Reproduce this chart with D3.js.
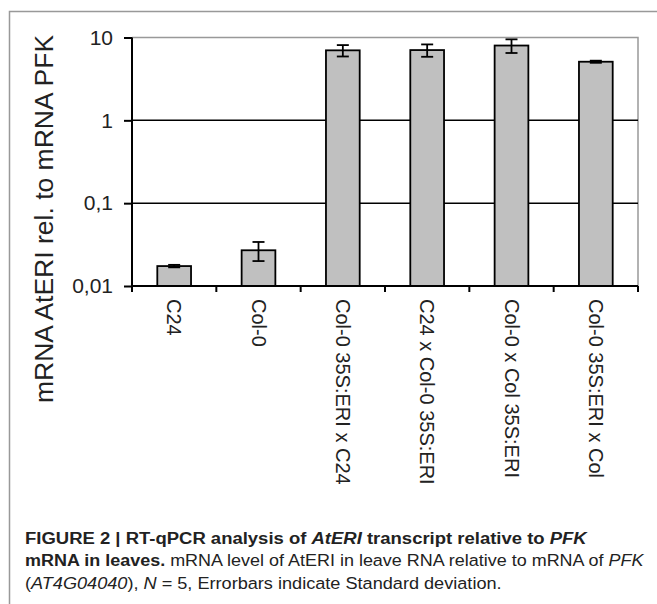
<!DOCTYPE html>
<html>
<head>
<meta charset="utf-8">
<script src="https://cdn.jsdelivr.net/npm/d3@7"></script>
<style>
  body { margin: 0; background: #fff; }
  svg { display: block; font-family: "Liberation Sans", Arial, sans-serif; }
  .axis path, .axis line { stroke: #000; stroke-width: 2; }
  .axis text { fill: #222; }
</style>
</head>
<body>
<script>
// data
var categories = ["C24", "Col-0", "Col-0 35S:ERI x C24", "C24 x Col-0 35S:ERI", "Col-0 x Col 35S:ERI", "Col-0 35S:ERI x Col"];
var means = [0.0174, 0.027, 7.0, 7.05, 8.0, 5.1];
var errors = [0.0006, 0.007, 1.1, 1.2, 1.5, 0.15];
var yTicks = [0.01, 0.1, 1, 10];

var width = 657, height = 604;
var plot = {left: 132, right: 638, top: 37.5, bottom: 286};

var svg = d3.select("body").append("svg")
    .attr("width", width)
    .attr("height", height);

// outer frame (left + top)
svg.append("path")
    .attr("d", "M9.5,604 V11.5 H657")
    .attr("fill", "none")
    .attr("stroke", "#999")
    .attr("stroke-width", 1.5);

var x = d3.scaleBand()
    .domain(categories)
    .range([plot.left, plot.right])
    .paddingInner(0.6)
    .paddingOuter(0.3);

var y = d3.scaleLog()
    .domain([0.01, 10])
    .range([plot.bottom, plot.top]);

// plot border top + right (gray)
svg.append("path")
    .attr("d", "M" + plot.left + "," + y(10) + " H" + plot.right + " V" + plot.bottom)
    .attr("fill", "none")
    .attr("stroke", "#999")
    .attr("stroke-width", 1.5);

// gridlines
svg.selectAll(".grid")
    .data([0.1, 1])
    .enter()
    .append("line")
    .attr("class", "grid")
    .attr("x1", plot.left)
    .attr("x2", plot.right)
    .attr("y1", function(d) { return y(d); })
    .attr("y2", function(d) { return y(d); })
    .attr("stroke", "#000")
    .attr("stroke-width", 1.5);

// bars
svg.selectAll(".bar")
    .data(categories)
    .enter()
    .append("rect")
    .attr("class", "bar")
    .attr("x", function(d) { return x(d); })
    .attr("width", x.bandwidth())
    .attr("y", function(d, i) { return y(means[i]); })
    .attr("height", function(d, i) { return plot.bottom - y(means[i]); })
    .attr("fill", "#c0c0c0")
    .attr("stroke", "#000")
    .attr("stroke-width", 1.8);

// error bars
var eb = svg.selectAll(".err")
    .data(categories)
    .enter()
    .append("g")
    .attr("class", "err")
    .attr("stroke", "#000")
    .attr("stroke-width", 1.8);

var cap = 6;
eb.append("line")
    .attr("x1", function(d) { return x(d) + x.bandwidth() / 2; })
    .attr("x2", function(d) { return x(d) + x.bandwidth() / 2; })
    .attr("y1", function(d, i) { return y(means[i] + errors[i]); })
    .attr("y2", function(d, i) { return y(means[i] - errors[i]); });
eb.append("line")
    .attr("x1", function(d) { return x(d) + x.bandwidth() / 2 - cap; })
    .attr("x2", function(d) { return x(d) + x.bandwidth() / 2 + cap; })
    .attr("y1", function(d, i) { return y(means[i] + errors[i]); })
    .attr("y2", function(d, i) { return y(means[i] + errors[i]); });
eb.append("line")
    .attr("x1", function(d) { return x(d) + x.bandwidth() / 2 - cap; })
    .attr("x2", function(d) { return x(d) + x.bandwidth() / 2 + cap; })
    .attr("y1", function(d, i) { return y(means[i] - errors[i]); })
    .attr("y2", function(d, i) { return y(means[i] - errors[i]); });

// y axis
var yAxis = d3.axisLeft(y)
    .tickValues(yTicks)
    .tickSize(8)
    .tickPadding(11)
    .tickFormat(function(d) { return String(d).replace(".", ","); });

svg.append("g")
    .attr("class", "axis")
    .attr("transform", "translate(" + plot.left + ",0)")
    .call(yAxis)
    .call(function(g) { g.select(".domain").attr("d", "M0," + y(10) + "V" + plot.bottom); })
    .selectAll("text")
    .style("font-size", "21px");

// x axis line + ticks at band boundaries
var bounds = d3.range(categories.length + 1).map(function(i) { return plot.left + i * x.step(); });
svg.append("line")
    .attr("x1", plot.left)
    .attr("x2", plot.right)
    .attr("y1", plot.bottom)
    .attr("y2", plot.bottom)
    .attr("stroke", "#000")
    .attr("stroke-width", 2);
svg.selectAll(".xtick")
    .data(bounds)
    .enter()
    .append("line")
    .attr("class", "xtick")
    .attr("x1", function(d) { return d; })
    .attr("x2", function(d) { return d; })
    .attr("y1", plot.bottom)
    .attr("y2", plot.bottom + 6)
    .attr("stroke", "#000")
    .attr("stroke-width", 2);

// x labels, rotated
svg.selectAll(".xlabel")
    .data(categories)
    .enter()
    .append("text")
    .attr("class", "xlabel")
    .attr("transform", function(d) {
        return "translate(" + (x(d) + x.bandwidth() / 2 - 7) + "," + (plot.bottom + 13) + ") rotate(90)";
    })
    .style("font-size", "20px")
    .style("fill", "#222")
    .text(function(d) { return d; });

// y axis title
svg.append("text")
    .attr("transform", "translate(53,219) rotate(-90)")
    .style("text-anchor", "middle")
    .style("font-size", "26.5px")
    .style("fill", "#222")
    .text("mRNA AtERI rel. to mRNA PFK");

// caption: each line fitted horizontally to the reference width
function captionLine(yPos, target, parts, bold) {
    var g = svg.append("g");
    var t = g.append("text")
        .attr("x", 0).attr("y", 0)
        .style("font-size", "17px")
        .style("fill", "#222")
        .style("font-weight", bold ? "bold" : "normal");
    parts.forEach(function(p) {
        var s = t.append("tspan").text(p.t);
        if (p.i) s.style("font-style", "italic");
        if (p.b) s.style("font-weight", "bold");
    });
    var w = t.node().getComputedTextLength();
    g.attr("transform", "translate(25," + yPos + ") scale(" + (target / w) + ",1)");
}

captionLine(544, 562, [
    {t: "FIGURE 2 | RT-qPCR analysis of "}, {t: "AtERI", i: true},
    {t: " transcript relative to "}, {t: "PFK", i: true}], true);
captionLine(566, 619, [
    {t: "mRNA in leaves.", b: true},
    {t: " mRNA level of AtERI in leave RNA relative to mRNA of "}, {t: "PFK", i: true}], false);
captionLine(589, 477, [
    {t: "("}, {t: "AT4G04040", i: true}, {t: "), "}, {t: "N", i: true},
    {t: " = 5, Errorbars indicate Standard deviation."}], false);
</script>
</body>
</html>
